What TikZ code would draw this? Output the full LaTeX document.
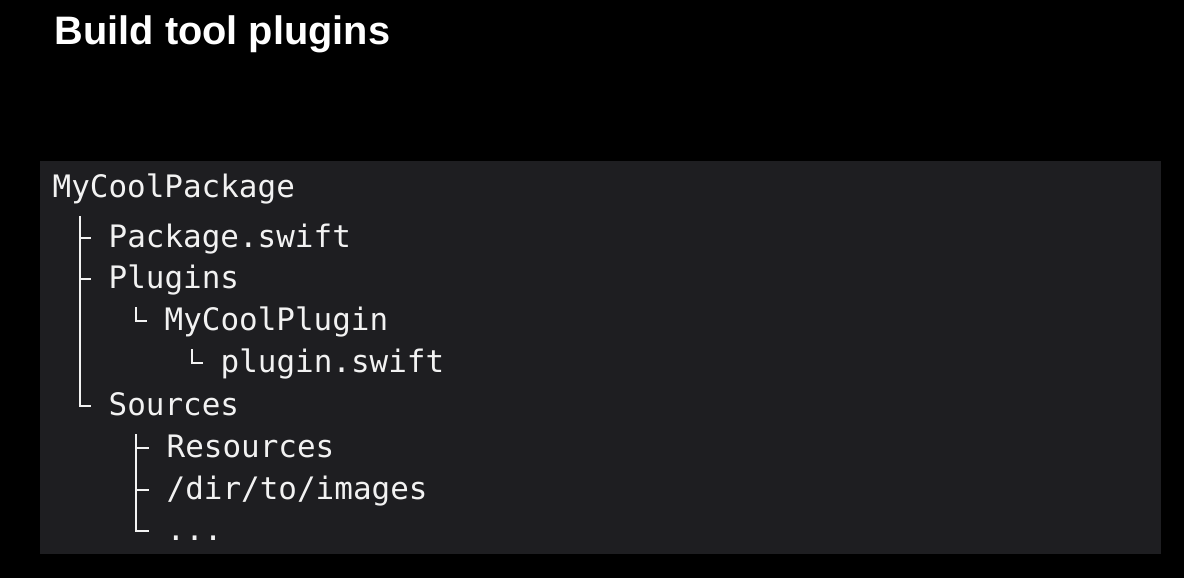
\documentclass[tikz,border=0pt]{standalone}
\usepackage{fontspec}
\setmainfont{Liberation Sans}
\newfontfamily\codefont{DejaVu Sans Mono}
\usepackage{xcolor}
\usetikzlibrary{calc}
\definecolor{panel}{HTML}{1E1E21}
\definecolor{codetext}{HTML}{F2F2F2}
\tikzset{
	entry/.style = {anchor=base west, inner sep=0pt, text=codetext, font=\codefont\fontsize{8.8}{10}\selectfont},
	tree/.style = {draw=codetext!90, line width=0.55pt}
}

\begin{document}
\begin{tikzpicture}[x=0.01cm, y=-0.01cm]
		\fill[black] (0,0) rectangle (1184,578);
		\fill[panel] (40,161) rectangle (1161,554);
		\node[anchor=base west, inner sep=0pt, text=white, font=\bfseries\fontsize{11.3}{13}\selectfont] (title) at (54,44) {Build tool plugins};
		\node[entry] (root) at (52,197) {MyCoolPackage};
		\node[entry] (pkgswift) at (108,247) {Package.swift};
		\node[entry] (plugins) at (108,288) {Plugins};
		\node[entry] (coolplugin) at (164,330) {MyCoolPlugin};
		\node[entry] (pluginswift) at (220,372) {plugin.swift};
		\node[entry] (sources) at (108,415) {Sources};
		\node[entry] (resources) at (166,457) {Resources};
		\node[entry] (images) at (166,499) {/dir/to/images};
		\node[entry] (dots) at (166,540) {...};
		\foreach \p/\c in {root/pkgswift, root/plugins, root/sources, plugins/coolplugin, coolplugin/pluginswift, sources/resources, sources/images, sources/dots}
			\draw[tree] ($(\p.base west)+(28,19)$) |- ($(\c.base west)+(-17,-9)$);
	\end{tikzpicture}
\end{document}
